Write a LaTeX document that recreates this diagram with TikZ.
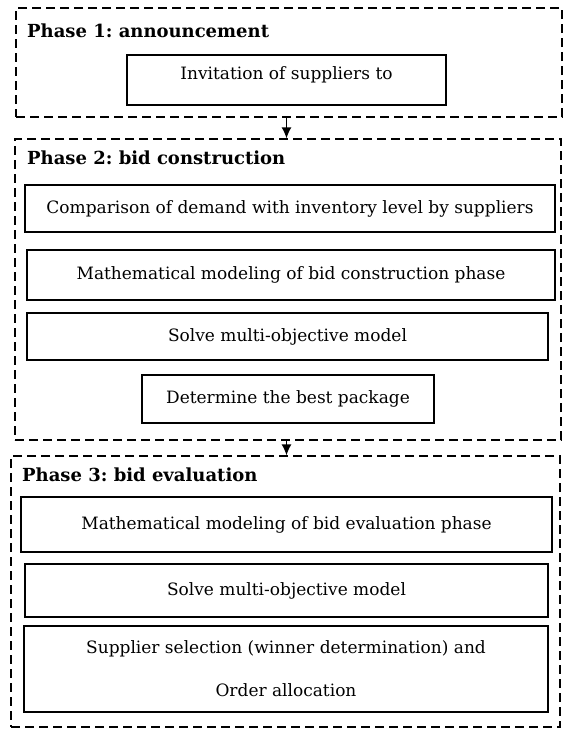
\documentclass[tikz,border=0pt]{standalone}
\usepackage{fontspec}
\setmainfont{DejaVu Serif}
\frenchspacing
\usetikzlibrary{positioning, arrows.meta}
\tikzstyle{chart} = [x = 1pt, y = -1pt]
\tikzstyle{phaseBox} = [draw, dash pattern = on 9pt off 5pt, line width = 1.3pt, inner sep = 0pt]
\tikzstyle{stepBox} = [draw, line width = 1.3pt, inner sep = 0pt, align = center, font = \fontsize{17}{20}\selectfont]
\tikzstyle{phaseTitle} = [anchor = west, inner sep = 0pt, font = \bfseries\fontsize{18}{22}\selectfont]
\tikzstyle{stepText} = [inner sep = 0pt, font = \fontsize{17}{20}\selectfont]
\tikzstyle{flowArrow} = [-{Latex[length = 11pt, width = 10pt]}, line width = 1.3pt]
\newcommand{\phaseNode}[5]{\node [phaseBox, minimum width = #4, minimum height = #5] (#1) at (#2, #3) {};}
\newcommand{\stepNode}[6]{\node [stepBox, minimum width = #4, minimum height = #5] (#1) at (#2, #3) {#6};}

\begin{document}
\begin{tikzpicture}[chart]
  \useasboundingbox (0, 0) rectangle (563, 731);
  \fill [white] (0, 0) rectangle (563, 731);

  % phase 1
  \phaseNode{phaseOne}{289}{62.5}{546pt}{109pt}
  \node [phaseTitle] (titleOne) at (27, 31) {Phase 1: announcement};
  \stepNode{inv}{286.5}{80}{319pt}{50pt}{}
  \node [stepText] (invText) at (286.5, 75) {Invitation of suppliers to};

  % phase 2
  \phaseNode{phaseTwo}{288}{289.5}{546pt}{301pt}
  \node [phaseTitle] (titleTwo) at (27, 158) {Phase 2: bid construction};
  \stepNode{compare}{290}{208.5}{530pt}{47pt}{Comparison of demand with inventory level by suppliers}
  \stepNode{modelBid}{291}{275}{528pt}{50pt}{Mathematical modeling of bid construction phase}
  \stepNode{solveBid}{287.5}{336.5}{521pt}{47pt}{Solve multi-objective model}
  \stepNode{best}{288}{399}{292pt}{48pt}{Determine the best package}

  % phase 3
  \phaseNode{phaseThree}{285.5}{591.5}{549pt}{271pt}
  \node [phaseTitle] (titleThree) at (22, 475) {Phase 3: bid evaluation};
  \stepNode{modelEval}{286.5}{524.5}{531pt}{55pt}{Mathematical modeling of bid evaluation phase}
  \stepNode{solveEval}{286.5}{590.5}{523pt}{53pt}{Solve multi-objective model}
  \stepNode{select}{286}{669}{524pt}{86pt}{Supplier selection (winner determination) and\\[23pt] Order allocation}

  % arrows between phases
  \draw [flowArrow] (inv |- phaseOne.south) -- (inv |- phaseTwo.north);
  \draw [flowArrow] (inv |- phaseTwo.south) -- (inv |- phaseThree.north);
\end{tikzpicture}
\end{document}
